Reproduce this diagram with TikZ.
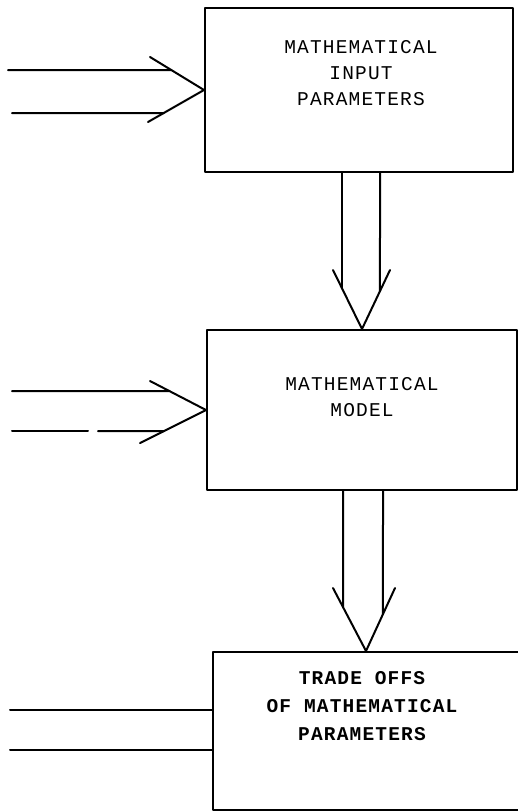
\documentclass[tikz,border=0pt]{standalone}
\usepackage{fontspec}
\setmonofont[LetterSpace=6]{Liberation Mono}
\begin{document}
\begin{tikzpicture}[x=1pt,y=-1pt, line width=2pt, line cap=round, line join=round,
 box/.style={draw, rectangle, inner sep=0pt},
 lbl/.style={font=\ttfamily\fontsize{19.5}{26}\selectfont, align=center, inner sep=0pt},
 lblb/.style={font=\ttfamily\bfseries\fontsize{19.5}{28}\selectfont, align=center, inner sep=0pt}]
\useasboundingbox (0,0) rectangle (518,812);
% boxes
\node[box, minimum width=308pt, minimum height=164pt] (b1) at (359,90) {};
\node[box, minimum width=310pt, minimum height=160pt] (b2) at (362,410) {};
\node[box, minimum width=306pt, minimum height=158pt] (b3) at (366,731) {};
% labels
\node[lbl] (t1) at (361,73) {MATHEMATICAL\\INPUT\\PARAMETERS};
\node[lbl] (t2) at (362,397) {MATHEMATICAL\\MODEL};
\node[lblb] (t3) at (362,706) {TRADE OFFS\\OF MATHEMATICAL\\PARAMETERS};
% input arrows to box 1
\coordinate (h1u) at (8,70);
\coordinate (h1l) at (12,113);
\coordinate (ua1) at (150,57);
\coordinate (la1) at (148,122);
\coordinate (h1ue) at (h1u -| b1.west);
\coordinate (h1le) at (h1l -| b1.west);
\draw (ua1) -- (b1.west) -- (la1);
\draw (h1u) -- (intersection of h1u--h1ue and ua1--b1.west);
\draw (h1l) -- (intersection of h1l--h1le and la1--b1.west);
% input arrows to box 2
\coordinate (h2u) at (12,391);
\coordinate (h2l) at (12,431);
\coordinate (h2g1) at (88,431);
\coordinate (h2g2) at (98,431);
\coordinate (ua2) at (150,381);
\coordinate (la2) at (140,443);
\coordinate (h2ue) at (h2u -| b2.west);
\coordinate (h2le) at (h2l -| b2.west);
\draw (ua2) -- (b2.west) -- (la2);
\draw (h2u) -- (intersection of h2u--h2ue and ua2--b2.west);
\draw (h2l) -- (h2g1);
\draw (h2g2) -- (intersection of h2l--h2le and la2--b2.west);
% input lines to box 3
\coordinate (h3u) at (10,710);
\coordinate (h3l) at (10,750);
\draw (h3u) -- (h3u -| b3.west);
\draw (h3l) -- (h3l -| b3.west);
% arrow box 1 -> box 2
\coordinate (s1) at (342,0);
\coordinate (s2) at (380,0);
\coordinate (s1t) at (b1.south -| s1);
\coordinate (s2t) at (b1.south -| s2);
\coordinate (s1b) at (b2.north -| s1);
\coordinate (s2b) at (b2.north -| s2);
\coordinate (va1) at (333,270);
\coordinate (vb1) at (390,270);
\draw (va1) -- (b2.north) -- (vb1);
\draw (s1t) -- (intersection of s1t--s1b and va1--b2.north);
\draw (s2t) -- (intersection of s2t--s2b and vb1--b2.north);
% arrow box 2 -> box 3
\coordinate (r1) at (343,0);
\coordinate (r2) at (383,0);
\coordinate (r1t) at (b2.south -| r1);
\coordinate (r2t) at (b2.south -| r2);
\coordinate (r1b) at (b3.north -| r1);
\coordinate (r2b) at (b3.north -| r2);
\coordinate (va2) at (333,588);
\coordinate (vb2) at (395,588);
\draw (va2) -- (b3.north) -- (vb2);
\draw (r1t) -- (intersection of r1t--r1b and va2--b3.north);
\draw (r2t) -- (intersection of r2t--r2b and vb2--b3.north);
\end{tikzpicture}
\end{document}
